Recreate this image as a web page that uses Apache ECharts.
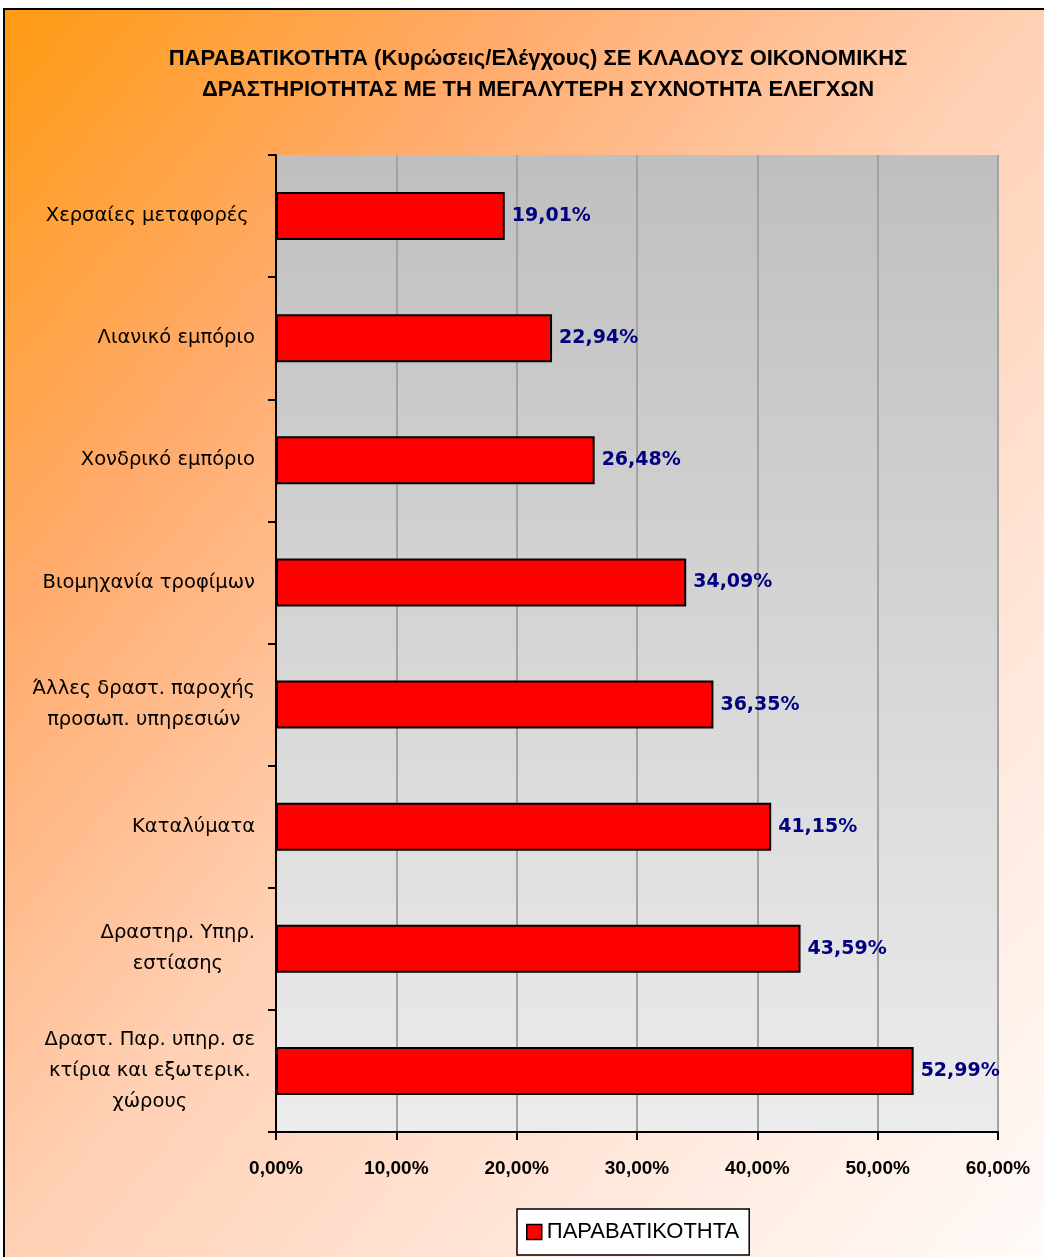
<!DOCTYPE html>
<html><head><meta charset="utf-8">
<script src="https://cdn.jsdelivr.net/npm/echarts@6/dist/echarts.min.js"></script>
<style>html,body{margin:0;padding:0;background:#fff}#c{width:1044px;height:1257px}</style>
</head><body><div id="c"></div>
<script>
const titleText = 'ΠΑΡΑΒΑΤΙΚΟΤΗΤΑ (Κυρώσεις/Ελέγχους) ΣΕ ΚΛΑΔΟΥΣ ΟΙΚΟΝΟΜΙΚΗΣ\nΔΡΑΣΤΗΡΙΟΤΗΤΑΣ ΜΕ ΤΗ ΜΕΓΑΛΥΤΕΡΗ ΣΥΧΝΟΤΗΤΑ ΕΛΕΓΧΩΝ';
const seriesName = 'ΠΑΡΑΒΑΤΙΚΟΤΗΤΑ';
const categories = [
  'Χερσαίες μεταφορές ',
  'Λιανικό εμπόριο',
  'Χονδρικό εμπόριο',
  'Βιομηχανία τροφίμων',
  'Άλλες δραστ. παροχής\nπροσωπ. υπηρεσιών',
  'Καταλύματα',
  'Δραστηρ. Υπηρ.\nεστίασης',
  'Δραστ. Παρ. υπηρ. σε\nκτίρια και εξωτερικ.\nχώρους'
];
const values = [19.01, 22.94, 26.48, 34.09, 36.35, 41.15, 43.59, 52.99];
const xMin = 0, xMax = 60, xStep = 10;

const fmtPct = v => Number(v).toFixed(2).replace('.', ',') + '%';
const narrow = "'Liberation Sans', Arial, sans-serif";
const wide = "'DejaVu Sans', Verdana, sans-serif";

const chart = echarts.init(document.getElementById('c'), null, {renderer: 'canvas'});
chart.setOption({
  backgroundColor: '#ffffff',
  animation: false,
  graphic: [{
    type: 'rect', z: -10, silent: true,
    shape: {x: 4, y: 9, width: 1100, height: 1320},
    style: {
      fill: new echarts.graphic.LinearGradient(4, 9, 1252, 1045, [
        {offset: 0, color: '#ff9a12'},
        {offset: 0.245, color: '#ffab6c'},
        {offset: 0.49, color: '#ffd0b4'},
        {offset: 0.75, color: '#ffe8dc'},
        {offset: 1, color: '#fffcfa'}
      ], true),
      stroke: '#000', lineWidth: 2
    }
  }],
  title: {
    text: titleText,
    left: 533, top: 38, textAlign: 'center',
    textStyle: {fontFamily: narrow, fontWeight: 'bold', fontSize: 22, lineHeight: 31, color: '#000'}
  },
  legend: {
    left: 517, top: 1209,
    data: [seriesName],
    backgroundColor: '#fff', borderColor: '#000', borderWidth: 1.5,
    padding: [12, 10, 12, 9],
    itemWidth: 15, itemHeight: 15,
    icon: 'rect',
    itemStyle: {borderColor: '#000', borderWidth: 1.5},
    textStyle: {fontFamily: narrow, fontSize: 22, color: '#000'}
  },
  grid: {
    left: 276, top: 155, right: 46, bottom: 125,
    show: true, borderWidth: 0,
    backgroundColor: new echarts.graphic.LinearGradient(0, 0, 0, 1, [
      {offset: 0, color: '#bfbfbf'},
      {offset: 1, color: '#ececec'}
    ])
  },
  xAxis: {
    type: 'value', min: xMin, max: xMax, interval: xStep,
    axisLine: {show: true, lineStyle: {color: '#000', width: 2}},
    axisTick: {show: true, length: 8, lineStyle: {color: '#000', width: 2}},
    splitLine: {show: true, lineStyle: {color: '#a3a3a3', width: 2}},
    axisLabel: {
      formatter: v => fmtPct(v), margin: 27,
      fontFamily: narrow, fontWeight: 'bold', fontSize: 19, color: '#000'
    }
  },
  yAxis: {
    type: 'category', inverse: true, data: categories,
    axisLine: {show: true, lineStyle: {color: '#000', width: 2}},
    axisTick: {show: true, length: 8, alignWithLabel: false, lineStyle: {color: '#000', width: 2}},
    splitLine: {show: false},
    axisLabel: {
      margin: 21, align: 'right',
      formatter: v => v.split('\n').map(s => '{c|' + s + '}').join('\n'),
      rich: {c: {align: 'center', fontFamily: wide, fontSize: 19.5, lineHeight: 31, color: '#000'}}
    }
  },
  series: [{
    name: seriesName, type: 'bar', data: values,
    barWidth: 48,
    itemStyle: {color: '#ff0000', borderColor: '#000', borderWidth: 2},
    label: {
      show: true, position: 'right', distance: 7,
      formatter: p => fmtPct(p.value),
      fontFamily: wide, fontWeight: 'bold', fontSize: 19, color: '#000080'
    }
  }]
});
</script></body></html>
